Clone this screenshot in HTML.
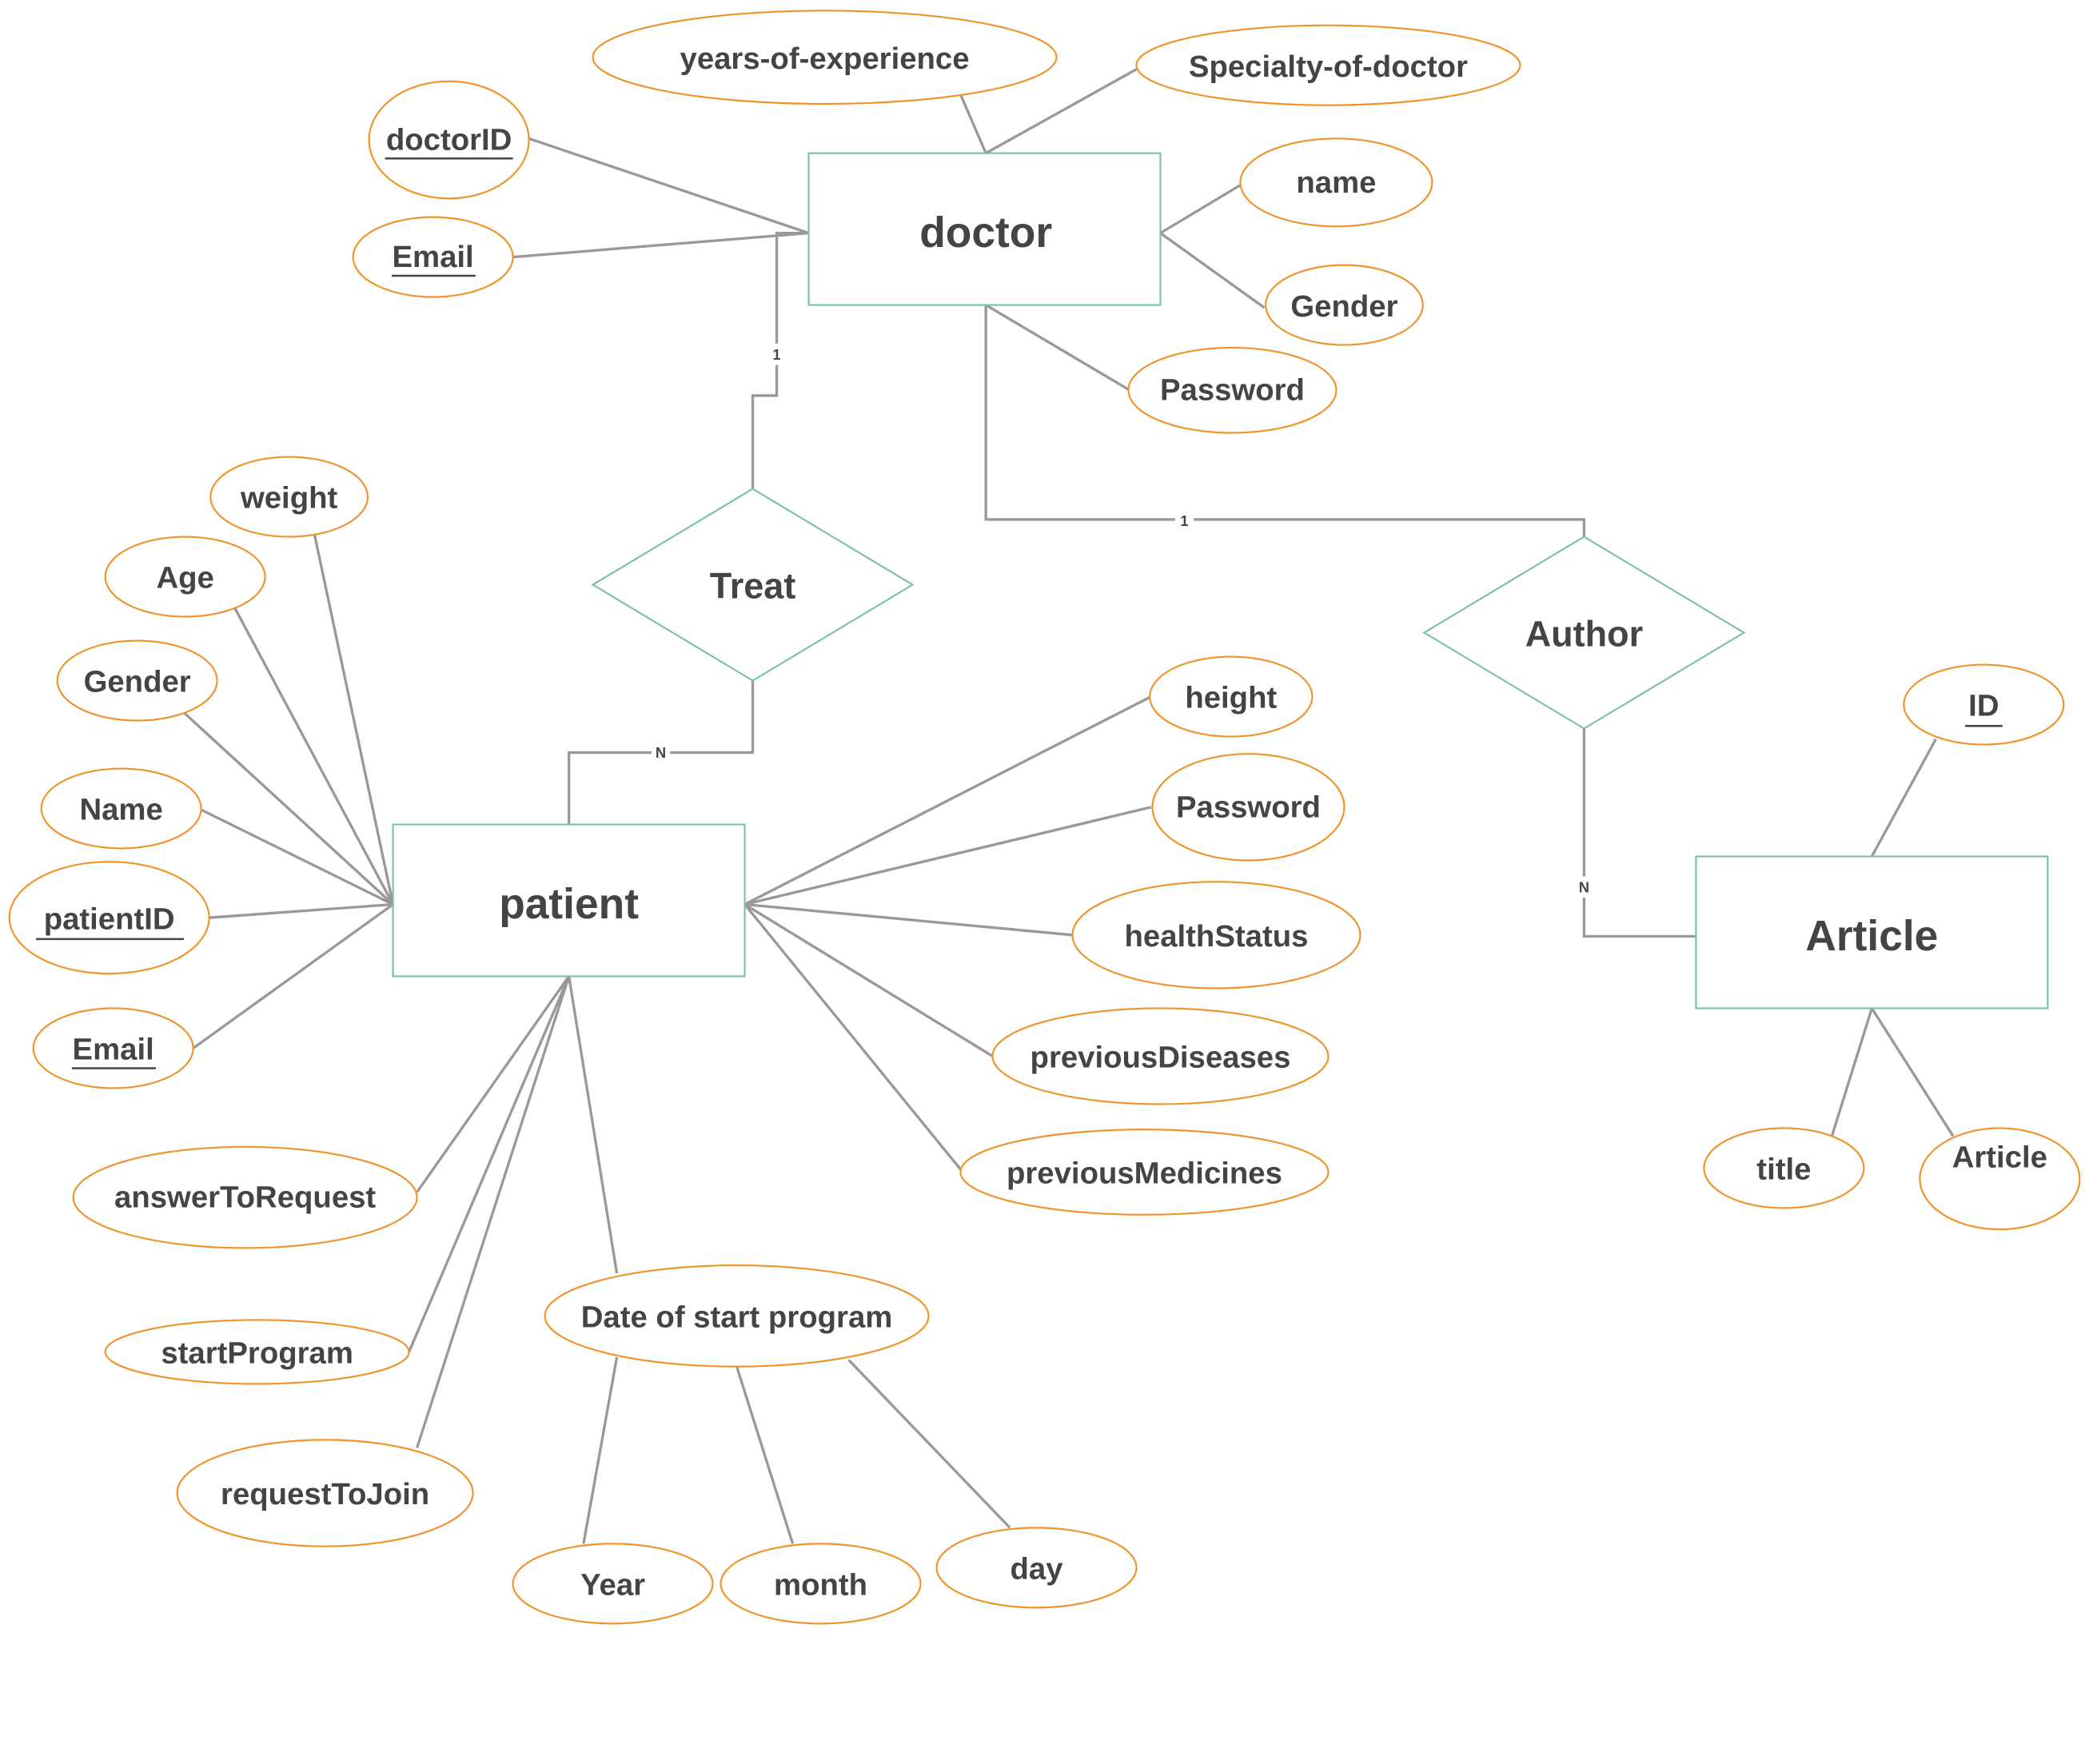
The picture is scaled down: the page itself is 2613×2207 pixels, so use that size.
<!DOCTYPE html>
<html><head><meta charset="utf-8"><style>
html,body{margin:0;padding:0;background:#fff;}
svg{display:block;}
text{font-family:"Liberation Sans",sans-serif;fill:#444;font-weight:bold;text-anchor:middle;dominant-baseline:central;}
.e{fill:#fff;stroke:#f0932b;stroke-width:1.3;}
.r{fill:#fff;stroke:#7cc2ab;stroke-width:1.3;}
.l{stroke:#999;stroke-width:2;fill:none;}
.a{font-size:23px;}
.t{font-size:32px;}
.s{font-size:11px;}
</style></head><body>
<svg width="2613" height="2207" viewBox="0 0 1568 1324.4" preserveAspectRatio="none">
<g class="l">
<path d="M740 115L721 71M740 115L853 52M397 104L607 175M385 193L607 175M871 175L931 139M871 175L949 231M740 229L848 293"/>
<path d="M607 175H583V297H565V367"/>
<path d="M565 511V565H427V619"/>
<path d="M740 229V390H1189V403"/>
<path d="M1189 547V703H1273"/>
<path d="M295 679L236 401M295 679L176 456M295 679L138 535M295 679L149 607M295 679L157 689M295 679L145 787"/>
<path d="M559 679L864 523M559 679L864 606M559 679L805 702M559 679L745 793M559 679L721 878"/>
<path d="M427 733L313 895M427 733L307 1015M427 733L313 1087M427 733L463 956"/>
<path d="M463 1019L438 1159M553 1026L595 1159M637 1021L758 1147"/>
<path d="M1405 643L1453 555M1405 757L1375 853M1405 757L1466 853"/>
</g>
<rect x="577" y="258" width="12" height="16" fill="#fff"/><text class="s" x="583" y="266">1</text>
<rect x="489" y="557" width="14" height="16" fill="#fff"/><text class="s" x="496" y="565">N</text>
<rect x="882" y="383" width="14" height="16" fill="#fff"/><text class="s" x="889" y="391">1</text>
<rect x="1182" y="658" width="14" height="16" fill="#fff"/><text class="s" x="1189" y="666">N</text>

<rect class="r" x="607" y="115" width="264" height="114"/><text class="t" x="740" y="175">doctor</text>
<rect class="r" x="295" y="619" width="264" height="114"/><text class="t" x="427" y="679">patient</text>
<rect class="r" x="1273" y="643" width="264" height="114"/><text class="t" x="1405" y="703">Article</text>
<polygon class="r" points="565,367 685,439 565,511 445,439"/><text class="a" style="font-size:27px" x="565" y="440">Treat</text>
<polygon class="r" points="1189,403 1309,475 1189,547 1069,475"/><text class="a" style="font-size:27px" x="1189" y="476">Author</text>

<g>
<ellipse class="e" cx="619" cy="43" rx="174" ry="35"/><text class="a" x="619" y="44">years-of-experience</text>
<ellipse class="e" cx="997" cy="49" rx="144" ry="30"/><text class="a" x="997" y="50">Specialty-of-doctor</text>
<ellipse class="e" cx="337" cy="105" rx="60" ry="44"/><text class="a" x="337" y="105">doctorID</text><line x1="289" y1="119" x2="385" y2="119" stroke="#444" stroke-width="1.5"/>
<ellipse class="e" cx="325" cy="193" rx="60" ry="30"/><text class="a" x="325" y="193">Email</text><line x1="294" y1="207" x2="357" y2="207" stroke="#444" stroke-width="1.5"/>
<ellipse class="e" cx="1003" cy="137" rx="72" ry="33"/><text class="a" x="1003" y="137">name</text>
<ellipse class="e" cx="1009" cy="229" rx="59" ry="30"/><text class="a" x="1009" y="230">Gender</text>
<ellipse class="e" cx="925" cy="293" rx="78" ry="32"/><text class="a" x="925" y="293">Password</text>
<ellipse class="e" cx="217" cy="373" rx="59" ry="30"/><text class="a" x="217" y="374">weight</text>
<ellipse class="e" cx="139" cy="433" rx="60" ry="30"/><text class="a" x="139" y="434">Age</text>
<ellipse class="e" cx="103" cy="511" rx="60" ry="30"/><text class="a" x="103" y="512">Gender</text>
<ellipse class="e" cx="91" cy="607" rx="60" ry="30"/><text class="a" x="91" y="608">Name</text>
<ellipse class="e" cx="82" cy="689" rx="75" ry="42"/><text class="a" x="82" y="690">patientID</text><line x1="27" y1="705" x2="138" y2="705" stroke="#444" stroke-width="1.5"/>
<ellipse class="e" cx="85" cy="787" rx="60" ry="30"/><text class="a" x="85" y="788">Email</text><line x1="54" y1="802" x2="117" y2="802" stroke="#444" stroke-width="1.5"/>
<ellipse class="e" cx="924" cy="523" rx="61" ry="30"/><text class="a" x="924" y="524">height</text>
<ellipse class="e" cx="937" cy="606" rx="72" ry="40"/><text class="a" x="937" y="606">Password</text>
<ellipse class="e" cx="913" cy="702" rx="108" ry="40"/><text class="a" x="913" y="703">healthStatus</text>
<ellipse class="e" cx="871" cy="793" rx="126" ry="36"/><text class="a" x="871" y="794">previousDiseases</text>
<ellipse class="e" cx="859" cy="880" rx="138" ry="32"/><text class="a" x="859" y="881">previousMedicines</text>
<ellipse class="e" cx="184" cy="899" rx="129" ry="38"/><text class="a" x="184" y="899">answerToRequest</text>
<ellipse class="e" cx="193" cy="1015" rx="114" ry="24"/><text class="a" x="193" y="1016">startProgram</text>
<ellipse class="e" cx="244" cy="1121" rx="111" ry="40"/><text class="a" x="244" y="1122">requestToJoin</text>
<ellipse class="e" cx="553" cy="988" rx="144" ry="38"/><text class="a" x="553" y="989">Date of start program</text>
<ellipse class="e" cx="460" cy="1189" rx="75" ry="30"/><text class="a" x="460" y="1190">Year</text>
<ellipse class="e" cx="616" cy="1189" rx="75" ry="30"/><text class="a" x="616" y="1190">month</text>
<ellipse class="e" cx="778" cy="1177" rx="75" ry="30"/><text class="a" x="778" y="1178">day</text>
<ellipse class="e" cx="1489" cy="529" rx="60" ry="30"/><text class="a" x="1489" y="530">ID</text><line x1="1475" y1="545" x2="1503" y2="545" stroke="#444" stroke-width="1.5"/>
<ellipse class="e" cx="1339" cy="877" rx="60" ry="30"/><text class="a" x="1339" y="878">title</text>
<ellipse class="e" cx="1501" cy="885" rx="60" ry="38"/><text class="a" x="1501" y="869">Article</text>
</g>
</svg>
</body></html>
